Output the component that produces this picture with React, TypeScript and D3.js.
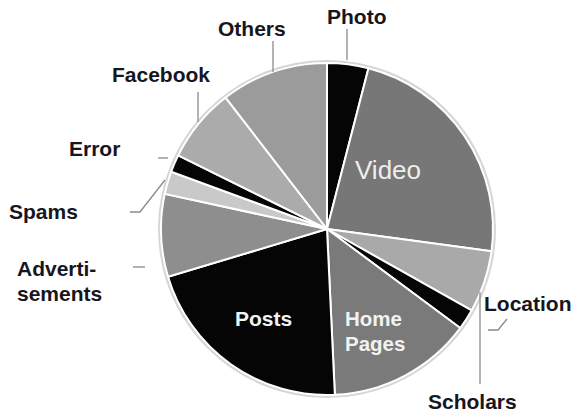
import React from "react";
import * as d3 from "d3";

const categories = ["Photo", "Video", "Location", "Scholars", "Home Pages", "Posts", "Advertisements", "Spams", "Error", "Facebook", "Others"];
const values = [4, 23, 6, 2, 14, 21, 8, 2.2, 1.7, 7.2, 10.4];
const sliceColors = ["#050505", "#777777", "#a9a9a9", "#050505", "#7a7a7a", "#050505", "#8e8e8e", "#c9c9c9", "#050505", "#ababab", "#9b9b9b"];

const W = 575;
const H = 417;
const CX = 327;
const CY = 229;
const R = 166;

// outside labels: text lines, anchor position, leader polyline
type OutLabel = { name: string; lines: string[]; x: number; y: number; anchor: string; leader: [number, number][] };
const outside: OutLabel[] = [
  { name: "Photo", lines: ["Photo"], x: 327, y: 24, anchor: "start", leader: [[347, 29], [347, 60]] },
  { name: "Others", lines: ["Others"], x: 218, y: 36, anchor: "start", leader: [[273, 41], [273, 72]] },
  { name: "Facebook", lines: ["Facebook"], x: 112, y: 82, anchor: "start", leader: [[198, 92], [198, 122]] },
  { name: "Error", lines: ["Error"], x: 69, y: 156, anchor: "start", leader: [[158, 158], [168, 158]] },
  { name: "Spams", lines: ["Spams"], x: 9, y: 219, anchor: "start", leader: [[130, 212], [140, 212], [165, 180]] },
  { name: "Advertisements", lines: ["Adverti-", "sements"], x: 17, y: 276, anchor: "start", leader: [[133, 267], [145, 267]] },
  { name: "Location", lines: ["Location"], x: 484, y: 311, anchor: "start", leader: [[488, 330], [498, 330], [507, 319]] },
  { name: "Scholars", lines: ["Scholars"], x: 428, y: 409, anchor: "start", leader: [[480, 292], [480, 384]] },
];

type InLabel = { name: string; lines: string[]; x: number; y: number; bold: boolean; size: number; color: string };
const inside: InLabel[] = [
  { name: "Video", lines: ["Video"], x: 355, y: 179, bold: false, size: 26, color: "#eeeeee" },
  { name: "Posts", lines: ["Posts"], x: 235, y: 326, bold: true, size: 21, color: "#f2f2f2" },
  { name: "Home Pages", lines: ["Home", "Pages"], x: 345, y: 326, bold: true, size: 20.5, color: "#f2f2f2" },
];

export default function App() {
  const data = categories.map((c, i) => ({ name: c, value: values[i], color: sliceColors[i] }));
  const pie = d3.pie<any>().sort(null).value((d: any) => d.value);
  const arcs = pie(data);
  const arc = d3.arc<any>().innerRadius(0).outerRadius(R);
  const line = d3.line();
  const font = "Arial, 'Liberation Sans', sans-serif";

  return (
    <svg width={W} height={H} style={{ position: "absolute", left: 0, top: 0, background: "#ffffff" }}>
      <circle cx={CX} cy={CY} r={R + 1.5} fill="none" stroke="#d6d6d6" strokeWidth={3} />
      <g transform={`translate(${CX},${CY})`}>
        {arcs.map((a, i) => (
          <path key={i} d={arc(a) || ""} fill={a.data.color} stroke="#ffffff" strokeWidth={2} strokeLinejoin="round" />
        ))}
      </g>
      {outside.map((l, i) => (
        <g key={i}>
          <path d={line(l.leader) || ""} fill="none" stroke="#8a8a8a" strokeWidth={1.3} />
          <text x={l.x} y={l.y} fontFamily={font} fontWeight="bold" fontSize={21} fill="#16161e" textAnchor={l.anchor}>
            {l.lines.map((t, j) => (
              <tspan key={j} x={l.x} dy={j === 0 ? 0 : 25}>{t}</tspan>
            ))}
          </text>
        </g>
      ))}
      {inside.map((l, i) => (
        <text key={i} x={l.x} y={l.y} fontFamily={font} fontWeight={l.bold ? "bold" : "normal"} fontSize={l.size} fill={l.color}>
          {l.lines.map((t, j) => (
            <tspan key={j} x={l.x} dy={j === 0 ? 0 : 25}>{t}</tspan>
          ))}
        </text>
      ))}
    </svg>
  );
}
